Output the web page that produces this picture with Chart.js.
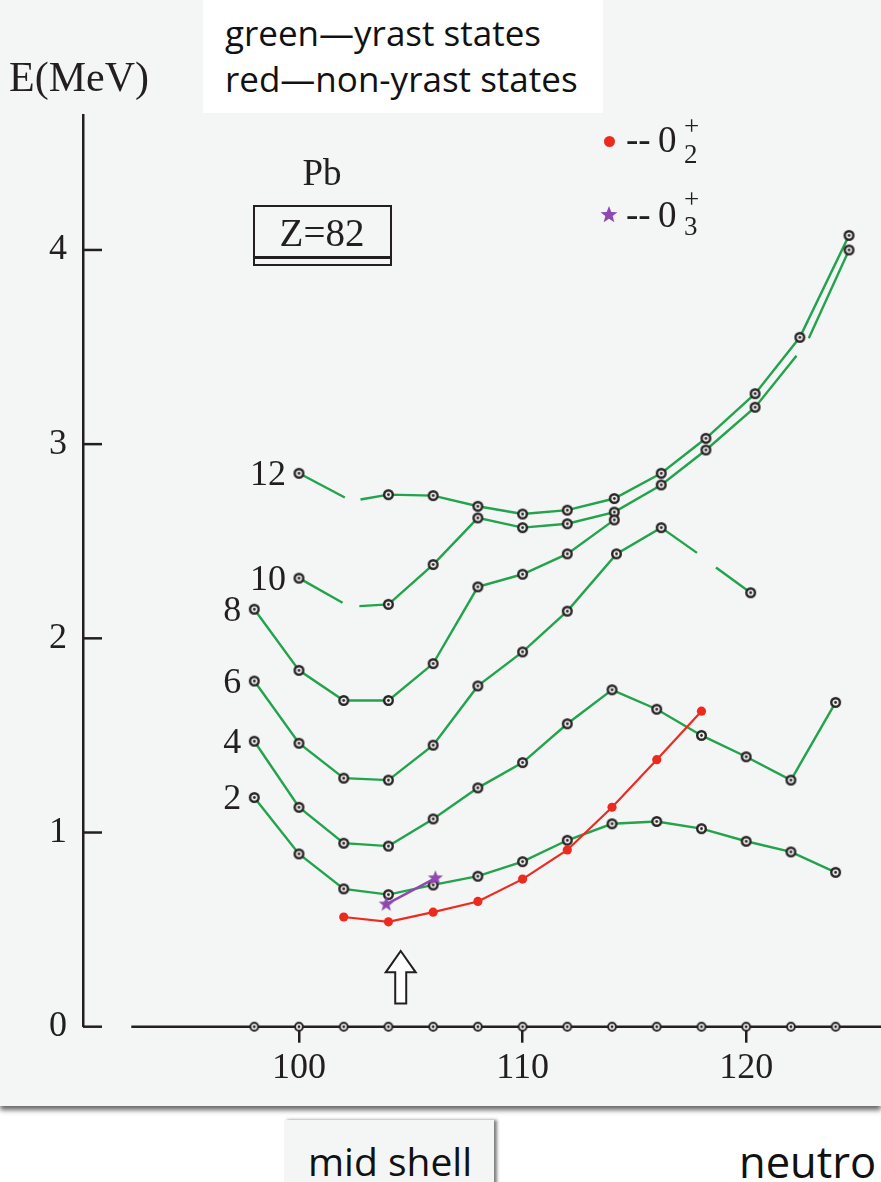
<!DOCTYPE html>
<html>
<head>
<meta charset="utf-8">
<script src="https://cdn.jsdelivr.net/npm/chart.js@4.4.1/dist/chart.umd.min.js"></script>
<style>
  html, body { margin: 0; padding: 0; background: #fff; }
  body { width: 881px; height: 1182px; position: relative; overflow: hidden; }
  #panel { position: absolute; left: 0; top: 0; width: 881px; height: 1106px; background: #f4f6f6;
           box-shadow: 0 4px 5px rgba(0,0,0,.6); }
  #chart { position: absolute; left: 0; top: 0; }
  .serif { position: absolute; white-space: nowrap; line-height: 1; color: #231f20;
           font-family: "Liberation Serif", "DejaVu Serif", serif; }
  .sans { position: absolute; white-space: nowrap; line-height: 1; color: #111;
          font-family: "Open Sans", "Noto Sans", sans-serif; }
  #legendBox { position: absolute; left: 203px; top: 0; width: 400px; height: 113px; background: #fff; }
  #zbox { position: absolute; left: 253px; top: 205px; width: 139px; height: 61px;
          box-sizing: border-box; border: 2.6px solid #231f20; }
  #zline { position: absolute; left: 253px; top: 256px; width: 139px; height: 2.6px; background: #231f20; }
  #redDot { position: absolute; left: 604px; top: 136px; width: 11px; height: 11px; border-radius: 50%; background: #ec2b1e; }
  #midBox { position: absolute; left: 284px; top: 1120px; width: 210px; height: 70px; background: #f4f6f6;
            box-shadow: 3px 0 3px rgba(0,0,0,.5); }
</style>
</head>
<body>
<div id="panel"><canvas id="chart" width="881" height="1106"></canvas></div>

<div id="legendBox"></div>
<div class="sans" style="left:225px;top:15px;font-size:35px;">green—yrast states</div>
<div class="sans" style="left:225px;top:61px;font-size:35px;">red—non-yrast states</div>

<div class="serif" style="left:9px;top:56px;font-size:42px;">E(MeV)</div>

<div class="serif" style="left:322px;top:154px;font-size:37px;transform:translateX(-50%);">Pb</div>
<div id="zbox"></div>
<div id="zline"></div>
<div class="serif" style="left:322px;top:213px;font-size:39px;transform:translateX(-50%);">Z=82</div>

<div id="redDot"></div>
<div class="serif" style="left:626px;top:121px;font-size:37px;">--&#8201;0</div>
<div class="serif" style="left:684px;top:113px;font-size:27px;">+</div>
<div class="serif" style="left:684px;top:141px;font-size:27px;">2</div>

<svg style="position:absolute;left:599px;top:205px;" width="20" height="20" viewBox="0 0 18 18">
  <polygon points="9,1 11.1,6.3 16.6,6.5 12.3,10 13.8,15.5 9,12.3 4.2,15.5 5.7,10 1.4,6.5 6.9,6.3" fill="#8f48b0"/>
</svg>
<div class="serif" style="left:626px;top:196px;font-size:37px;">--&#8201;0</div>
<div class="serif" style="left:684px;top:186px;font-size:27px;">+</div>
<div class="serif" style="left:684px;top:213px;font-size:27px;">3</div>

<div id="midBox"></div>
<div class="sans" style="left:308px;top:1141px;font-size:39px;">mid shell</div>
<div class="sans" style="left:739px;top:1140px;font-size:43.5px;">neutro</div>

<script>
// ---- data ----
const xTickVals = [100, 110, 120];
const yTickVals = [0, 1, 2, 3, 4];

const neutronN = [98, 100, 102, 104, 106, 108, 110, 112, 114, 116, 118, 120, 122, 124];
const groundE = [0, 0, 0, 0, 0, 0, 0, 0, 0, 0, 0, 0, 0, 0];
const yrast2E = [1.18, 0.89, 0.71, 0.68, 0.73, 0.775, 0.85, 0.96, 1.045, 1.057, 1.02, 0.955, 0.90, 0.795];
const yrast4E = [1.47, 1.13, 0.945, 0.93, 1.07, 1.23, 1.36, 1.56, 1.735, 1.635, 1.50, 1.39, 1.27, 1.67];

// null = break in the drawn line
const yrast6N = [98, 100, 102, 104, 106, 108, 110, 112, 114.2, 116.2, 117.8, 118.2, 118.65, 120.2];
const yrast6E = [1.78, 1.46, 1.28, 1.27, 1.45, 1.755, 1.93, 2.14, 2.435, 2.57, 2.44, null, 2.365, 2.235];

const yrast8N = [98, 100, 102, 104, 106, 108, 110, 112, 114.1];
const yrast8E = [2.15, 1.835, 1.68, 1.68, 1.87, 2.265, 2.33, 2.435, 2.61];

const yrast10N = [100, 101.95, 102.3, 102.7, 104, 106, 108, 110, 112, 114.1, 116.2, 118.2, 120.4, 122.25, 122.5, 122.8, 124.6];
const yrast10E = [2.31, 2.183, null, 2.166, 2.175, 2.38, 2.62, 2.57, 2.59, 2.65, 2.79, 2.97, 3.19, 3.455, null, 3.545, 4.0];

const yrast12N = [100, 102.05, 102.4, 102.75, 104, 106, 108, 110, 112, 114.1, 116.2, 118.2, 120.4, 122.4, 124.6];
const yrast12E = [2.85, 2.725, null, 2.715, 2.74, 2.735, 2.68, 2.64, 2.66, 2.72, 2.85, 3.03, 3.26, 3.55, 4.075];

const nonYrastN = [102, 104, 106, 108, 110, 112, 114, 116, 118];
const nonYrastE = [0.565, 0.54, 0.59, 0.645, 0.76, 0.91, 1.13, 1.375, 1.625];

const third0N = [103.9, 106.1];
const third0E = [0.63, 0.765];

const spinLabels = ["2", "4", "6", "8", "10", "12"];

const arrowN = 104.55;
const arrowE = [0.39, 0.28, 0.12]; // tip, head base, tail
const groundLineStart = 92.5;

// ---- styles ----
const INK = "#231f20";
const GREEN = "#22a34c";
const RED = "#ec2b1e";
const PURPLE = "#8f48b0";
const SERIF = '"Liberation Serif", "DejaVu Serif", serif';

function makeRing(r, lw) {
  const s = Math.ceil(2 * r + lw + 2);
  const c = document.createElement("canvas");
  c.width = s; c.height = s;
  const g = c.getContext("2d");
  g.beginPath(); g.arc(s / 2, s / 2, r, 0, Math.PI * 2);
  g.fillStyle = "#f4f6f6"; g.fill();
  g.lineWidth = lw; g.strokeStyle = "#2a2424"; g.stroke();
  g.beginPath(); g.arc(s / 2, s / 2, 1.4, 0, Math.PI * 2);
  g.fillStyle = "#2a2424"; g.fill();
  return c;
}

function makeStar(R, color) {
  const s = Math.ceil(2 * R + 2);
  const c = document.createElement("canvas");
  c.width = s; c.height = s;
  const g = c.getContext("2d");
  g.beginPath();
  for (let i = 0; i < 10; i++) {
    const a = -Math.PI / 2 + i * Math.PI / 5;
    const rr = i % 2 ? R * 0.42 : R;
    g.lineTo(s / 2 + rr * Math.cos(a), s / 2 + rr * Math.sin(a));
  }
  g.closePath();
  g.fillStyle = color; g.fill();
  return c;
}

const ring = makeRing(4.3, 2.4);
const ringSmall = makeRing(3.9, 2);
const star = makeStar(8, PURPLE);

function pts(ns, es) {
  return ns.map((n, i) => ({ x: n, y: es[i] }));
}

function greenSet(ns, es) {
  return {
    data: pts(ns, es),
    borderColor: GREEN,
    borderWidth: 2.4,
    pointStyle: ring,
    pointRadius: (ctx) => {
      const i = ctx.dataIndex;
      return es[i - 1] === null || es[i + 1] === null ? 0 : 5;
    },
    spanGaps: false,
    clip: false,
    order: 2,
  };
}

const yrastSets = [
  greenSet(neutronN, yrast2E),
  greenSet(neutronN, yrast4E),
  greenSet(yrast6N, yrast6E),
  greenSet(yrast8N, yrast8E),
  greenSet(yrast10N, yrast10E),
  greenSet(yrast12N, yrast12E),
];

// axis decorations, spin labels and the mid-shell arrow
const decor = {
  id: "decor",
  beforeDatasetsDraw(chart) {
    const { ctx, chartArea, scales: { x, y } } = chart;
    ctx.save();
    ctx.strokeStyle = INK;
    ctx.lineWidth = 2.5;
    const y0 = y.getPixelForValue(0);
    ctx.beginPath();
    ctx.moveTo(x.getPixelForValue(groundLineStart), y0);
    ctx.lineTo(chart.width, y0);
    ctx.stroke();
    // inward ticks on the energy axis
    yTickVals.forEach((v) => {
      const py = y.getPixelForValue(v);
      ctx.beginPath();
      ctx.moveTo(chartArea.left, py);
      ctx.lineTo(chartArea.left + 19, py);
      ctx.stroke();
    });
    ctx.restore();
  },
  afterDatasetsDraw(chart) {
    const { ctx, scales: { x, y } } = chart;
    ctx.save();
    // spin labels beside the first point of each yrast line
    ctx.font = "36px " + SERIF;
    ctx.fillStyle = INK;
    ctx.textAlign = "right";
    ctx.textBaseline = "middle";
    yrastSets.forEach((ds, i) => {
      const p = ds.data[0];
      ctx.fillText(spinLabels[i], x.getPixelForValue(p.x) - 13, y.getPixelForValue(p.y) + 2);
    });
    // hollow arrow
    const cx = x.getPixelForValue(arrowN);
    const tip = y.getPixelForValue(arrowE[0]);
    const base = y.getPixelForValue(arrowE[1]);
    const tail = y.getPixelForValue(arrowE[2]);
    ctx.beginPath();
    ctx.moveTo(cx, tip);
    ctx.lineTo(cx + 15, base);
    ctx.lineTo(cx + 5.5, base);
    ctx.lineTo(cx + 5.5, tail);
    ctx.lineTo(cx - 5.5, tail);
    ctx.lineTo(cx - 5.5, base);
    ctx.lineTo(cx - 15, base);
    ctx.closePath();
    ctx.fillStyle = "#fff";
    ctx.fill();
    ctx.lineWidth = 2;
    ctx.strokeStyle = INK;
    ctx.stroke();
    ctx.restore();
  },
};

new Chart(document.getElementById("chart"), {
  type: "line",
  data: {
    datasets: [
      {
        data: pts(third0N, third0E),
        borderColor: PURPLE,
        borderWidth: 2.4,
        pointStyle: star,
        pointRadius: 6,
        clip: false,
        order: 0,
      },
      {
        data: pts(nonYrastN, nonYrastE),
        borderColor: RED,
        borderWidth: 2.2,
        pointStyle: "circle",
        pointRadius: 4.6,
        pointBorderWidth: 0,
        pointBackgroundColor: RED,
        clip: false,
        order: 1,
      },
      ...yrastSets,
      {
        data: pts(neutronN, groundE),
        showLine: false,
        pointStyle: ringSmall,
        pointRadius: 5,
        clip: false,
        order: 3,
      },
    ],
  },
  options: {
    responsive: false,
    animation: false,
    devicePixelRatio: 1,
    events: [],
    layout: { autoPadding: false, padding: { top: 115, left: 0, right: 0, bottom: 0 } },
    plugins: { legend: { display: false }, tooltip: { enabled: false } },
    elements: { line: { tension: 0 } },
    scales: {
      x: {
        type: "linear",
        min: 90.34,
        max: 126.03,
        afterBuildTicks: (s) => { s.ticks = xTickVals.map((v) => ({ value: v })); },
        afterFit: (s) => { s.height = 79.3; s.paddingLeft = 0; s.paddingRight = 0; },
        border: { display: false },
        grid: { display: true, drawOnChartArea: false, drawTicks: true, tickLength: 16, color: INK, lineWidth: 2.5 },
        ticks: { color: INK, padding: 4, font: { family: SERIF, size: 36 } },
      },
      y: {
        type: "linear",
        min: 0,
        max: 4.695,
        afterBuildTicks: (s) => { s.ticks = yTickVals.map((v) => ({ value: v })); },
        afterFit: (s) => { s.width = 83; s.paddingTop = 0; s.paddingBottom = 0; },
        border: { display: true, color: INK, width: 2.5 },
        grid: { display: false, drawTicks: false },
        ticks: { color: INK, padding: 16, font: { family: SERIF, size: 36 } },
      },
    },
  },
  plugins: [decor],
});
</script>
</body>
</html>
